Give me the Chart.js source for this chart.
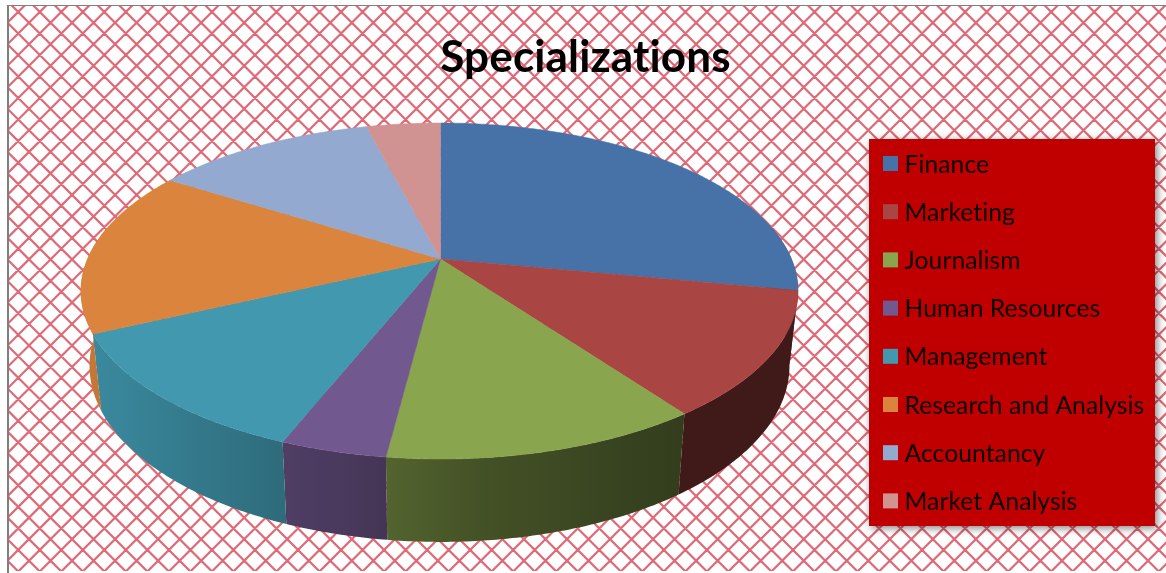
<!DOCTYPE html>
<html>
<head>
<meta charset="utf-8">
<title>Specializations</title>
<script src="https://cdn.jsdelivr.net/npm/chart.js@4"></script>
<style>
  html, body { margin: 0; padding: 0; background: #fff; }
  canvas { display: block; }
</style>
</head>
<body>
<canvas id="chart" width="1166" height="573"></canvas>
<script>
const categories = ['Finance', 'Marketing', 'Journalism', 'Human Resources', 'Management', 'Research and Analysis', 'Accountancy', 'Market Analysis'];
const shares = [28, 12, 12, 4, 12, 16, 12, 4];
const sliceColors = ['#4672a7', '#a94543', '#89a54e', '#71588f', '#4198af', '#db843d', '#93a9cf', '#d19392'];

// apex of the pie on screen and the perspective of the top face
const apexX = 440.5, apexY = 259;
const persp = 0.1905, scaleRight = 351, scaleLeft = 353, scaleV = 161.9;
// the bottom rim is the top rim moved down and pulled in a bit
const rimX = 0.976, rimY = 1.048, rimDrop = 73.3;

function topPoint(angle) {
  const u = Math.cos(angle), v = Math.sin(angle);
  const w = 1 - persp * v;
  return { x: (u < 0 ? scaleLeft : scaleRight) * u / w, y: scaleV * v / w };
}

function hexRgb(hex) {
  return [1, 3, 5].map(i => parseInt(hex.substr(i, 2), 16));
}

// how dark the side wall is at a given x
const shadeX = [95, 288, 390, 470, 680, 800];
const shadeK = [0.9, 0.7, 0.6, 0.5, 0.37, 0.38];
function shadeAt(x) {
  for (let i = 1; i < shadeX.length; i++) {
    if (x <= shadeX[i]) {
      const t = (x - shadeX[i - 1]) / (shadeX[i] - shadeX[i - 1]);
      return shadeK[i - 1] + (shadeK[i] - shadeK[i - 1]) * Math.max(t, 0);
    }
  }
  return shadeK[shadeK.length - 1];
}

function arcAngles(arc) {
  const list = [];
  const steps = Math.ceil((arc.endAngle - arc.startAngle) / 0.01);
  for (let i = 0; i <= steps; i++) {
    list.push(arc.startAngle + (arc.endAngle - arc.startAngle) * i / steps);
  }
  return list;
}

function drawSide(ctx, arc, color) {
  const angles = arcAngles(arc).filter(a => Math.sin(a) > -0.2);
  if (angles.length < 2) return;
  const tops = angles.map(topPoint).map(p => ({ x: apexX + p.x, y: apexY + p.y }));
  const bottoms = angles.map(topPoint).map(p => ({ x: apexX + p.x * rimX, y: apexY + p.y * rimY + rimDrop }));
  const xs = tops.concat(bottoms).map(p => p.x);
  const x0 = Math.min(...xs), x1 = Math.max(...xs);
  const rgb = hexRgb(color);
  const grad = ctx.createLinearGradient(x0, 0, x1, 0);
  for (let i = 0; i <= 10; i++) {
    const k = shadeAt(x0 + (x1 - x0) * i / 10);
    grad.addColorStop(i / 10, `rgb(${rgb.map(c => Math.round(c * k)).join(',')})`);
  }
  ctx.fillStyle = grad;
  ctx.beginPath();
  tops.forEach((p, i) => i ? ctx.lineTo(p.x, p.y) : ctx.moveTo(p.x, p.y));
  bottoms.reverse().forEach(p => ctx.lineTo(p.x, p.y));
  ctx.closePath();
  ctx.fill();
}

function drawTop(ctx, arc, color) {
  ctx.fillStyle = color;
  ctx.strokeStyle = color;
  ctx.lineWidth = 0.5;
  ctx.beginPath();
  ctx.moveTo(apexX, apexY);
  arcAngles(arc).map(topPoint).forEach(p => ctx.lineTo(apexX + p.x, apexY + p.y));
  ctx.closePath();
  ctx.fill();
  ctx.stroke();
}

const backdrop = {
  id: 'backdrop',
  beforeDraw(chart) {
    const ctx = chart.ctx;
    const W = chart.width, H = chart.height;
    ctx.save();
    ctx.fillStyle = '#fff';
    ctx.fillRect(0, 0, W, H);
    ctx.beginPath();
    ctx.rect(9, 6, W - 9, H - 8);
    ctx.clip();
    ctx.strokeStyle = 'rgba(205, 20, 40, 0.64)';
    ctx.lineWidth = 2.2;
    const step = 21.52;
    ctx.beginPath();
    for (let k = -30; k < 90; k++) {
      const d = 6.3 + k * step, s = 51.7 + k * step;
      ctx.moveTo(d, 0); ctx.lineTo(d + H, H);
      ctx.moveTo(s, 0); ctx.lineTo(s - H, H);
    }
    ctx.stroke();
    ctx.restore();
    ctx.fillStyle = '#7f7f7f';
    ctx.fillRect(7, 5, 2, H - 5);
    ctx.fillRect(7, 5, W - 7, 1);
    // a tiny spacing keeps Lato from joining "ti" into one glyph
    ctx.letterSpacing = '0.15px';
  }
};

const pie3d = {
  id: 'pie3d',
  beforeDatasetsDraw(chart) {
    const ctx = chart.ctx;
    const arcs = chart.getDatasetMeta(0).data;
    const colors = chart.data.datasets[0].backgroundColor;
    ctx.save();
    arcs.forEach((arc, i) => drawSide(ctx, arc, colors[i]));
    arcs.forEach((arc, i) => drawTop(ctx, arc, colors[i]));
    ctx.restore();
    return false;
  }
};

const boxLegend = {
  id: 'boxLegend',
  afterDraw(chart) {
    const ctx = chart.ctx;
    ctx.save();
    ctx.shadowColor = 'rgba(0, 0, 0, 0.5)';
    ctx.shadowBlur = 8;
    ctx.shadowOffsetX = 2;
    ctx.shadowOffsetY = 2;
    ctx.fillStyle = '#c00000';
    ctx.fillRect(869, 139, 286, 387);
    ctx.restore();
    ctx.save();
    ctx.font = '24.7px Lato';
    ctx.textBaseline = 'alphabetic';
    ctx.letterSpacing = '0.05px';
    chart.data.labels.forEach((label, i) => {
      const y = 156 + i * 48.2;
      ctx.fillStyle = chart.data.datasets[0].backgroundColor[i];
      ctx.fillRect(883, y, 15, 15);
      ctx.fillStyle = '#0a0000';
      ctx.fillText(label, 904.5, y + 16.5);
    });
    ctx.restore();
  }
};

new Chart(document.getElementById('chart'), {
  type: 'pie',
  data: {
    labels: categories,
    datasets: [{ data: shares, backgroundColor: sliceColors, borderWidth: 0 }]
  },
  options: {
    responsive: false,
    animation: false,
    layout: { padding: { left: 5 } },
    plugins: {
      legend: { display: false },
      tooltip: { enabled: false },
      title: {
        display: true,
        text: 'Specializations',
        color: '#000',
        font: { family: 'Lato', size: 44, weight: 'bold' },
        padding: { top: 31, bottom: 10 }
      }
    }
  },
  plugins: [backdrop, pie3d, boxLegend]
});
</script>
</body>
</html>
